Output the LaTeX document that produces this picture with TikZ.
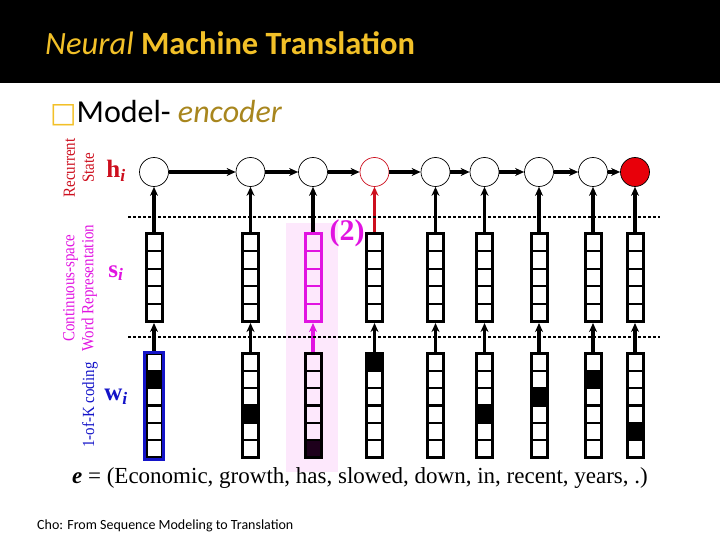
\documentclass[tikz,border=0pt]{standalone}
\usepackage{fontspec}
\setmainfont{Liberation Serif}
\newfontfamily\slidefont{Carlito}
\newfontfamily\symfont{DejaVu Sans}
\newfontfamily\tallserif[FakeStretch=0.88]{Liberation Serif}
\usepackage{xcolor}
\usetikzlibrary{arrows.meta,positioning,calc}

\definecolor{titlegold}{RGB}{242,192,40}
\definecolor{encgold}{RGB}{168,134,30}
\definecolor{statered}{RGB}{205,15,30}
\definecolor{repmag}{RGB}{225,20,225}
\definecolor{codeblue}{RGB}{20,20,200}
\definecolor{hilite}{RGB}{253,232,252}
\definecolor{darkcell}{RGB}{30,0,28}
\definecolor{lastred}{RGB}{232,0,10}

\begin{document}
\begin{tikzpicture}[x=1pt,y=-1pt,
  hstate/.style={circle,draw,line width=0.7pt,minimum size=29pt,inner sep=0pt},
  svec/.style={rectangle,draw,line width=3pt,minimum width=16pt,minimum height=88pt,inner sep=0pt},
  wvec/.style={rectangle,draw,line width=3pt,minimum width=16pt,minimum height=104pt,inner sep=0pt},
  feed/.style={-{Stealth[length=9pt,width=8pt]},line width=3.2pt},
  sidelbl/.style={rotate=90,align=center,font=\tallserif\fontsize{17}{19}\selectfont},
  varlbl/.style={font=\fontsize{25}{27}\selectfont\bfseries}]
\useasboundingbox (0,0) rectangle (720,540);

% slide header
\fill[black] (0,0) rectangle (720,83);
\node[anchor=base west,inner sep=0pt,text=titlegold,font=\slidefont\fontsize{32.5}{34}\selectfont]
  (title) at (45,55) {\textit{Neural} \textbf{Machine Translation}};
\node[anchor=base west,inner sep=0pt,font=\slidefont\fontsize{32}{34}\selectfont]
  (bullet) at (50,123) {{\symfont\fontsize{28}{30}\selectfont\color{titlegold}□}Model- {\color{encgold}\itshape encoder}};

% highlighted column
\fill[hilite] (286,223) rectangle (338,472);

% columns: x / black cell / w colour / s colour / h colour / h fill
\foreach \x/\b/\wc/\sc/\hc/\hf [count=\i] in {
  154/2/black/black/black/white, 250.5/4/black/black/black/white,
  313/6/black/repmag/black/white, 374.5/1/black/black/statered/white,
  435.5/0/black/black/black/white, 484.5/4/black/black/black/white,
  539/3/black/black/black/white, 593/2/black/black/black/white,
  635/5/black/black/black/lastred} {
    \ifnum\b>0
      \ifnum\i=3
        \fill[darkcell] (\x-8,353+\b*17.33-17.33) rectangle (\x+8,353+\b*17.33);
      \else
        \fill[black] (\x-8,353+\b*17.33-17.33) rectangle (\x+8,353+\b*17.33);
      \fi
    \fi
    \node[hstate,draw=\hc,fill=\hf] (h\i) at (\x,172) {};
    \node[svec,draw=\sc] (s\i) at (\x,277.5) {};
    \node[wvec,draw=\wc] (w\i) at (\x,405.5) {};
    \foreach \k in {1,...,4}
      \draw[line width=2.3pt,\sc] (\x-8,233.5+\k*17.6) -- (\x+8,233.5+\k*17.6);
    \foreach \k in {1,...,5}
      \draw[line width=2.3pt] (\x-8,353.5+\k*17.33) -- (\x+8,353.5+\k*17.33);
    \draw[feed,\sc] (w\i) -- (s\i);
    \draw[feed,\hc] (s\i) -- (h\i);
}
\draw[codeblue,line width=3pt] (w1.north west) rectangle (w1.south east);

\foreach \i [evaluate=\i as \j using int(\i+1)] in {1,...,8}
  \draw[feed] (h\i) -- (h\j);

% layer borders
\draw[line width=1.8pt,dash pattern=on 2.5pt off 2.5pt] (128,217) -- (660,217);
\draw[line width=1.8pt,dash pattern=on 2.5pt off 2.5pt] (128,337) -- (660,337);

% left labels
\node[sidelbl,text=statered] (statelbl) at (79,168) {Recurrent\\State};
\node[sidelbl,text=repmag] (replbl) at (80,288) {Continuous-space\\Word Representation};
\node[sidelbl,text=codeblue] (codelbl) at (90,405) {1-of-K coding};
\node[varlbl,text=statered] (hlbl) at (116,171) {h\textsubscript{\textit{i}}};
\node[varlbl,text=repmag] (slbl) at (116,273) {s\textsubscript{\textit{i}}};
\node[varlbl,text=codeblue] (wlbl) at (116,397) {w\textsubscript{\textit{i}}};
\node[text=repmag,font=\fontsize{30}{32}\selectfont\bfseries] (steplbl) at (347,233) {(2)};

% sentence and source
\node[font=\fontsize{23}{25}\selectfont] (sent) at (360,478)
  {\textbf{\textit{e}} = (Economic, growth, has, slowed, down, in, recent, years, .)};
\node[anchor=base west,inner sep=0pt,font=\slidefont\fontsize{14}{16}\selectfont] (src) at (37,529)
  {Cho: From Sequence Modeling to Translation};
\end{tikzpicture}
\end{document}
